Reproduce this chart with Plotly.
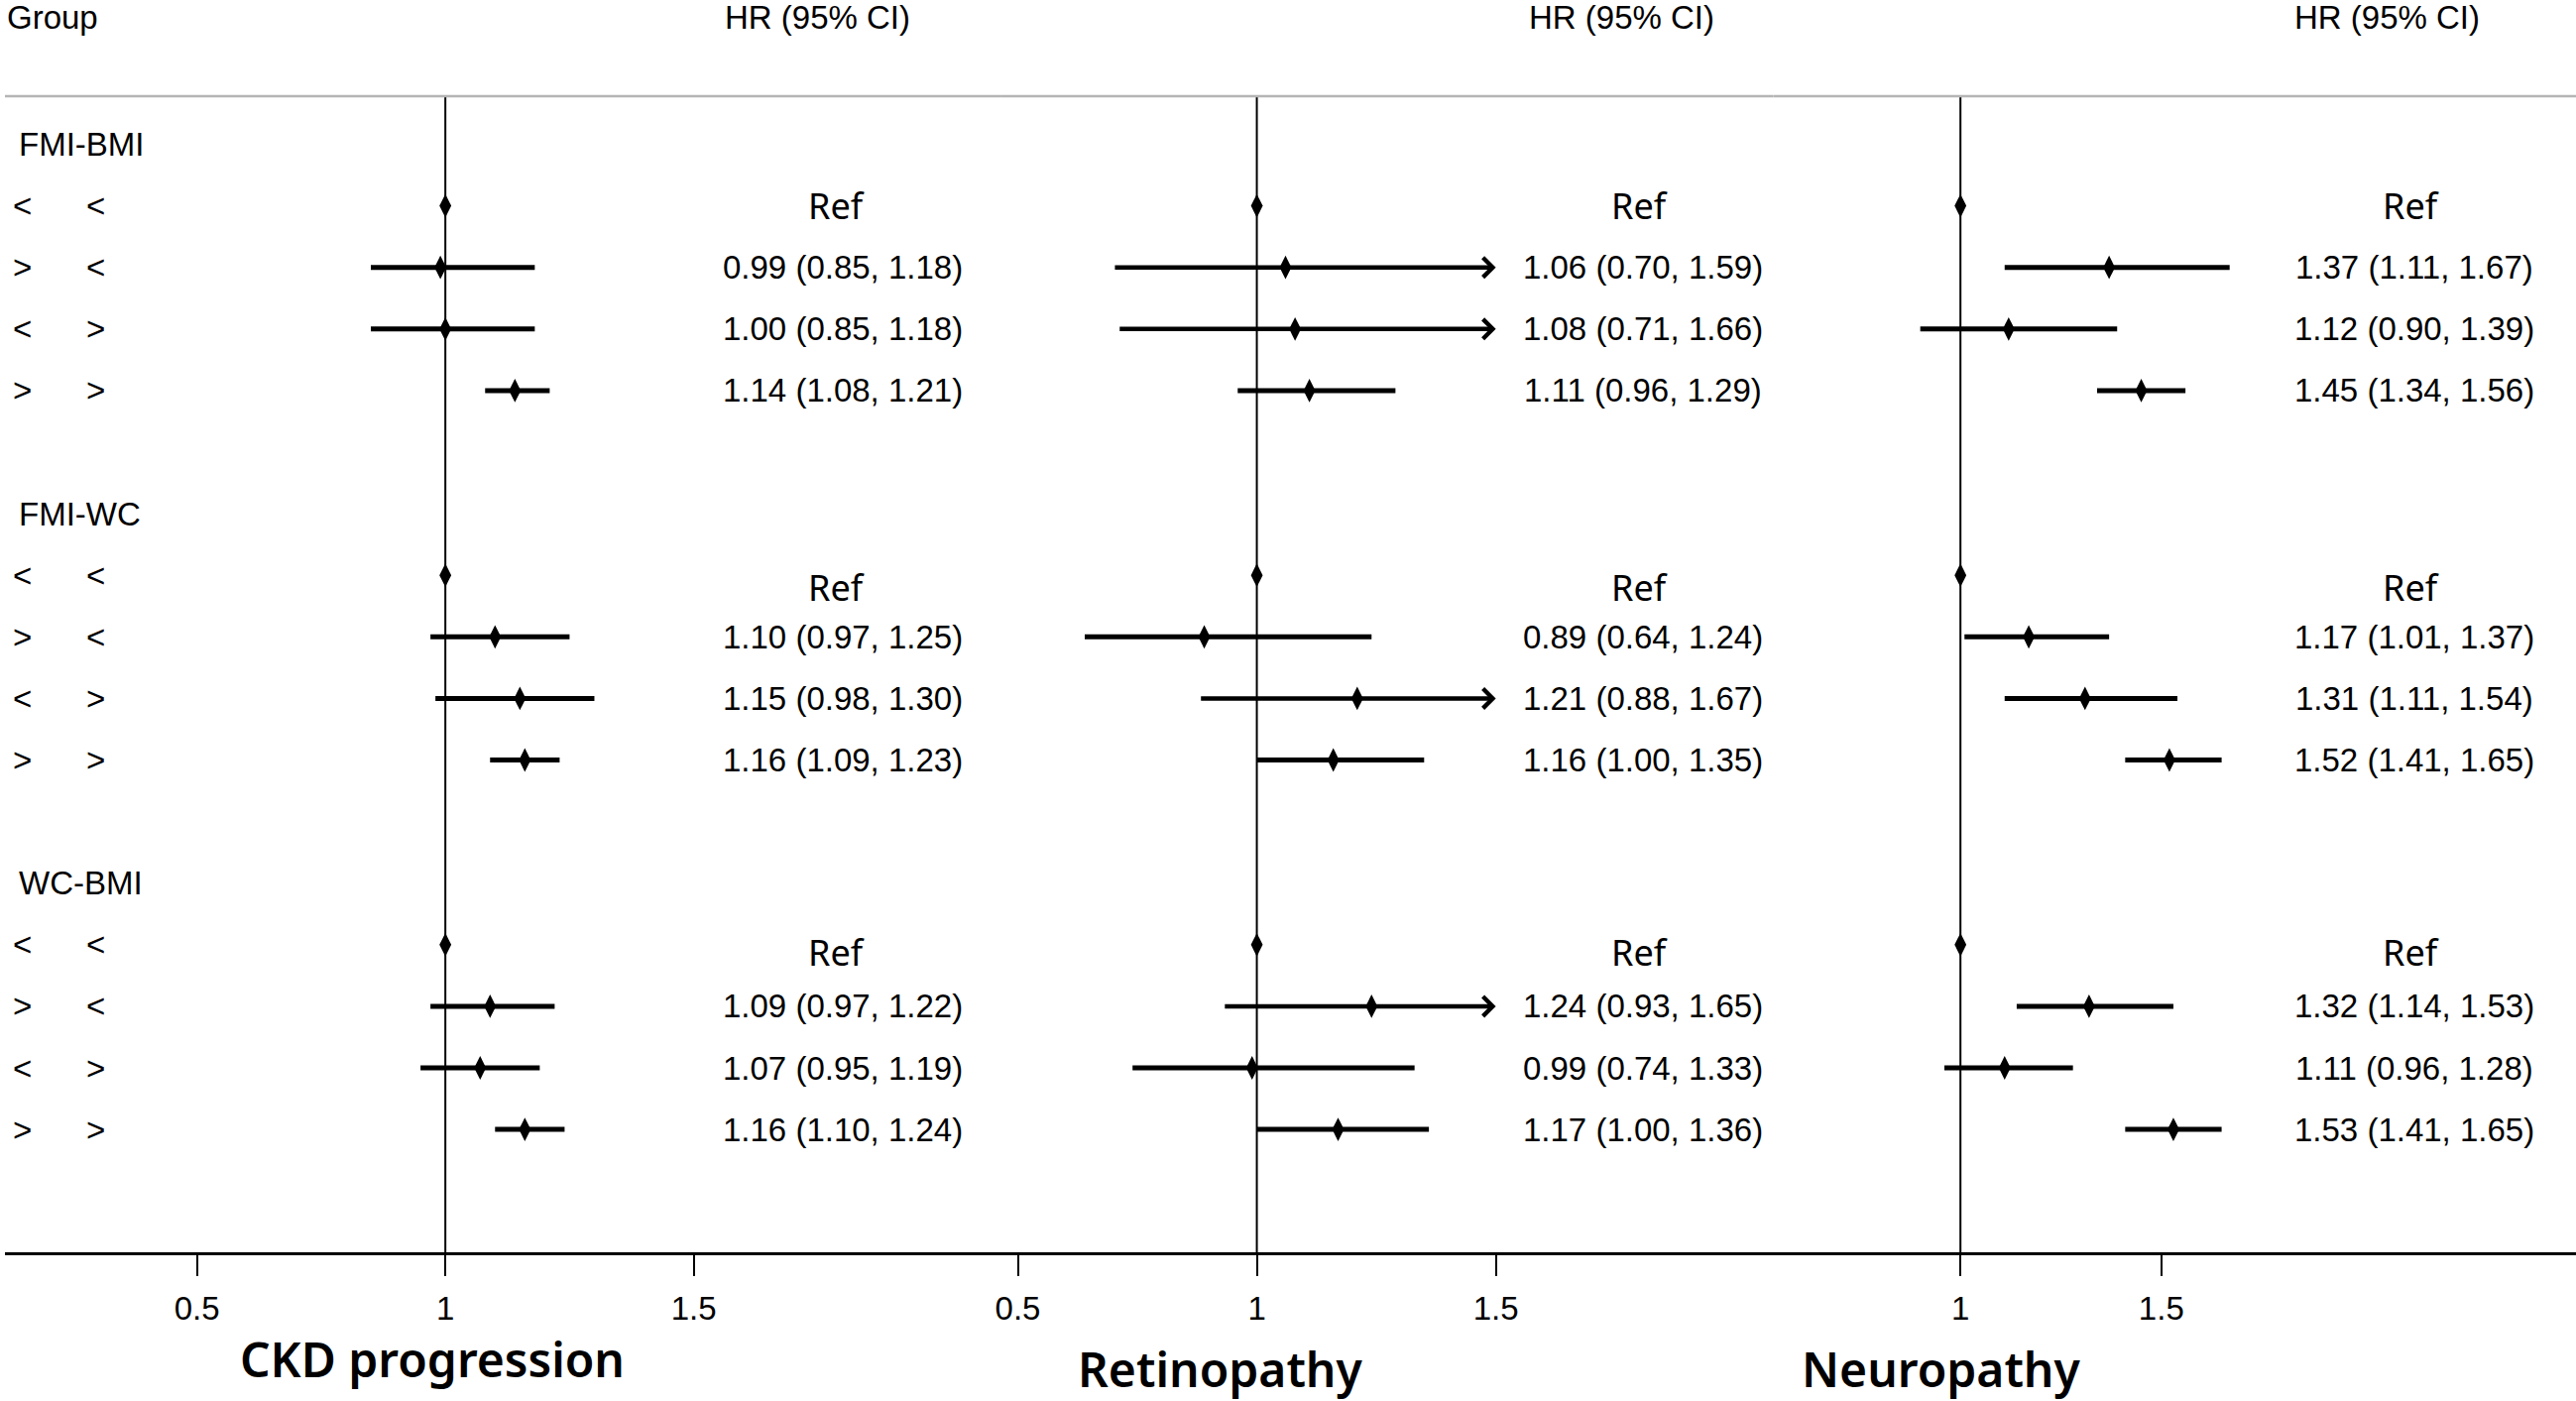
import plotly.graph_objects as go

# ---- data ----
groups = ["FMI-BMI", "FMI-WC", "WC-BMI"]
first_sign = ["<", ">", "<", ">"]
second_sign = ["<", "<", ">", ">"]
outcomes = ["CKD progression", "Retinopathy", "Neuropathy"]

ckd_hr = [1, 0.99, 1.00, 1.14, 1, 1.10, 1.15, 1.16, 1, 1.09, 1.07, 1.16]
ckd_lo = [None, 0.85, 0.85, 1.08, None, 0.97, 0.98, 1.09, None, 0.97, 0.95, 1.10]
ckd_hi = [None, 1.18, 1.18, 1.21, None, 1.25, 1.30, 1.23, None, 1.22, 1.19, 1.24]

ret_hr = [1, 1.06, 1.08, 1.11, 1, 0.89, 1.21, 1.16, 1, 1.24, 0.99, 1.17]
ret_lo = [None, 0.70, 0.71, 0.96, None, 0.64, 0.88, 1.00, None, 0.93, 0.74, 1.00]
ret_hi = [None, 1.59, 1.66, 1.29, None, 1.24, 1.67, 1.35, None, 1.65, 1.33, 1.36]

neu_hr = [1, 1.37, 1.12, 1.45, 1, 1.17, 1.31, 1.52, 1, 1.32, 1.11, 1.53]
neu_lo = [None, 1.11, 0.90, 1.34, None, 1.01, 1.11, 1.41, None, 1.14, 0.96, 1.41]
neu_hi = [None, 1.67, 1.39, 1.56, None, 1.37, 1.54, 1.65, None, 1.53, 1.28, 1.65]

ckd_ticks = [0.5, 1, 1.5]
ret_ticks = [0.5, 1, 1.5]
neu_ticks = [1, 1.5]

W, H = 2598, 1413
TXT = "Liberation Sans"
ALT = "Noto Sans"


def px(x):
    return x / W


def py(y):
    return (H - y) / H


# panel settings: axis name, domain (px), range, ticks, clip, text column positions (px)
panels = [
    dict(ax="x", dom=(0, 1006), rng=[0.1135, 2.1175], ticks=ckd_ticks, clip=None,
         hr=ckd_hr, lo=ckd_lo, hi=ckd_hi, head_x=725, val_x=847, ref_x=840,
         title_x=432, title_y=1370),
    dict(ax="x2", dom=(1006, 1787), rng=[0.4638, 2.0807], ticks=ret_ticks, clip=1.5,
         hr=ret_hr, lo=ret_lo, hi=ret_hi, head_x=1538, val_x=1655, ref_x=1652,
         title_x=1228, title_y=1380),
    dict(ax="x3", dom=(1787, 2598), rng=[0.5345, 2.532], ticks=neu_ticks, clip=None,
         hr=neu_hr, lo=neu_lo, hi=neu_hi, head_x=2311, val_x=2435, ref_x=2431,
         title_x=1956, title_y=1380),
]

# row positions: header of group g at 6g, data rows at 6g+1 .. 6g+4
rows = []
for g in range(len(groups)):
    for i in range(4):
        rows.append(6 * g + 1 + i)
ref_shift = [0, -12, -8]

fig = go.Figure()
annotations = []
shapes = []

for n, p in enumerate(panels):
    xs, ys = [], []
    for k, (h, lo, hi) in enumerate(zip(p["hr"], p["lo"], p["hi"])):
        if lo is None:
            continue
        if p["clip"] is not None and hi > p["clip"]:
            # CI runs past the axis end: draw it as an arrow
            annotations.append(dict(
                x=p["clip"], y=rows[k], ax=lo, ay=rows[k],
                xref=p["ax"], yref="y", axref=p["ax"], ayref="y",
                text="", showarrow=True, arrowhead=4, arrowsize=0.85,
                arrowwidth=4.5, arrowcolor="black", standoff=0, startstandoff=0))
        else:
            xs += [lo, hi, None]
            ys += [rows[k], rows[k], None]
    fig.add_trace(go.Scatter(x=xs, y=ys, mode="lines", xaxis=p["ax"], yaxis="y",
                             line=dict(color="black", width=5), hoverinfo="skip"))
    fig.add_trace(go.Scatter(x=p["hr"], y=rows, mode="markers", xaxis=p["ax"], yaxis="y",
                             marker=dict(symbol="diamond-tall", size=17, color="black")))

    # reference line at HR = 1 and the grey rule on top
    shapes.append(dict(type="line", xref=p["ax"], yref="y domain", x0=1, x1=1, y0=0, y1=1,
                       line=dict(color="black", width=2)))
    shapes.append(dict(type="line", xref=p["ax"] + " domain", yref="y domain",
                       x0=0, x1=1, y0=1, y1=1, line=dict(color="#b5b5b5", width=2.5)))

    # HR text column
    annotations.append(dict(x=px(p["head_x"]), y=py(18), xref="paper", yref="paper",
                            text="HR (95% CI)", showarrow=False, xanchor="left",
                            yanchor="middle",
                            font=dict(family=TXT, size=33, color="black")))
    for k, (h, lo, hi) in enumerate(zip(p["hr"], p["lo"], p["hi"])):
        if lo is None:
            annotations.append(dict(x=px(p["ref_x"]), y=rows[k], xref="paper", yref="y",
                                    text="Ref", showarrow=False, yshift=ref_shift[k // 4],
                                    xanchor="center", yanchor="middle",
                                    font=dict(family=ALT, size=36, color="black")))
        else:
            annotations.append(dict(x=px(p["val_x"]), y=rows[k], xref="paper", yref="y",
                                    text=f"{h:.2f} ({lo:.2f}, {hi:.2f})", showarrow=False,
                                    xanchor="center", yanchor="middle",
                                    font=dict(family=TXT, size=33, color="black")))

    annotations.append(dict(x=px(p["title_x"]), y=py(p["title_y"]), xref="paper", yref="paper",
                            text=outcomes[n], showarrow=False,
                            xanchor="center", yanchor="middle",
                            font=dict(family=ALT, size=48, color="black", weight=600)))

# left label column
annotations.append(dict(x=0, y=py(18), xref="paper", yref="paper", text="Group",
                        showarrow=False, xanchor="left", yanchor="middle",
                        font=dict(family=TXT, size=33, color="black")))
for g, name in enumerate(groups):
    annotations.append(dict(x=px(12), y=6 * g, xref="paper", yref="y", text=name,
                            showarrow=False, xanchor="left", yanchor="middle",
                            font=dict(family=TXT, size=33, color="black")))
    for i in range(4):
        for sign, cx in ((first_sign[i], 18), (second_sign[i], 92)):
            annotations.append(dict(x=px(cx), y=6 * g + 1 + i, xref="paper", yref="y",
                                    text=sign, showarrow=False,
                                    xanchor="center", yanchor="middle",
                                    font=dict(family=TXT, size=33, color="black")))

axis_style = dict(showgrid=False, zeroline=False, showline=True, linecolor="black",
                  linewidth=3, ticks="outside", ticklen=21, tickwidth=1.5, tickcolor="black",
                  tickfont=dict(family=TXT, size=33, color="black"), ticklabelstandoff=4,
                  anchor="y", fixedrange=True)
layout = dict(
    width=W, height=H, margin=dict(l=0, r=0, t=0, b=0),
    paper_bgcolor="white", plot_bgcolor="white", showlegend=False,
    yaxis=dict(domain=[py(1263), py(97)], range=[17.995, -0.781], visible=False,
               fixedrange=True),
    annotations=annotations, shapes=shapes,
)
for p in panels:
    key = "xaxis" if p["ax"] == "x" else "xaxis" + p["ax"][1:]
    layout[key] = dict(axis_style, domain=[px(p["dom"][0]), px(p["dom"][1])],
                       range=p["rng"], tickvals=p["ticks"],
                       ticktext=[f"{t:g}" for t in p["ticks"]])
fig.update_layout(layout)

fig.write_html("out.html", config={"displayModeBar": False},
               post_script="document.body.style.margin='0px';")
